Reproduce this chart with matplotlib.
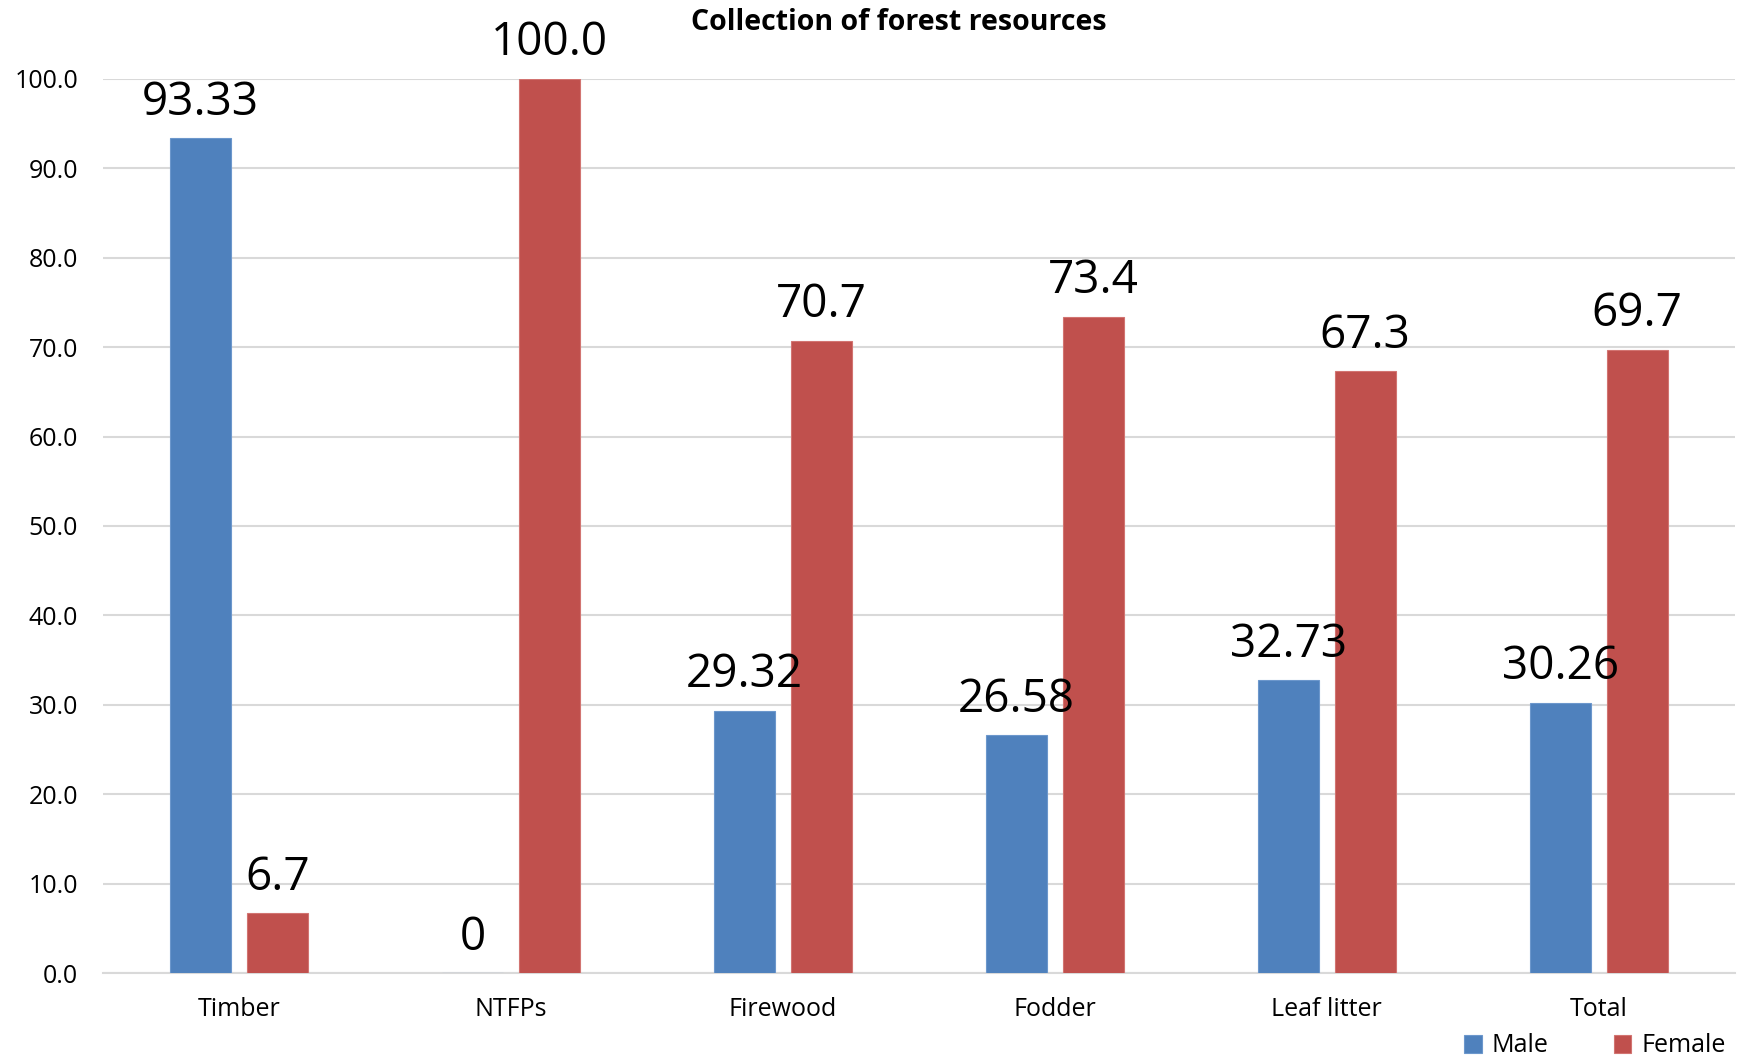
import matplotlib
matplotlib.use("Agg")
import matplotlib.pyplot as plt
import numpy as np

# Share of collection by gender (%)
categories = ["Timber", "NTFPs", "Firewood", "Fodder", "Leaf litter", "Total"]
male = [93.33, 0, 29.32, 26.58, 32.73, 30.26]
female = [6.7, 100.0, 70.7, 73.4, 67.3, 69.7]
yticks = [0, 10, 20, 30, 40, 50, 60, 70, 80, 90, 100]

BLUE = "#4F81BD"
RED = "#C0504D"
GRID = "#D9D9D9"

plt.rcParams["font.family"] = ["Open Sans", "DejaVu Sans"]

fig = plt.figure(figsize=(17.4, 10.56), dpi=100)
ax = fig.add_axes([0.0592, 0.0784, 0.9378, 0.847])

x = np.arange(len(categories))
w = 0.224
off = 0.141
bm = ax.bar(x - off, male, w, color=BLUE, edgecolor="#6C97CC", linewidth=0.8, label="Male", zorder=3)
bf = ax.bar(x + off, female, w, color=RED, edgecolor="#D27471", linewidth=0.8, label="Female", zorder=3)

for xi, v in zip(x - off, male):
    txt = "0" if v == 0 else f"{v:.2f}"
    ax.annotate(txt, (xi, v), xytext=(0, 17), textcoords="offset points",
                ha="center", va="baseline", fontsize=33, color="black", annotation_clip=False)
for xi, v in zip(x + off, female):
    ax.annotate(f"{v:.1f}", (xi, v), xytext=(0, 17), textcoords="offset points",
                ha="center", va="baseline", fontsize=33, color="black", annotation_clip=False)

ax.set_xlim(-0.5, len(categories) - 0.5)
ax.set_ylim(0, 100)
ax.set_yticks(yticks)
ax.set_yticklabels([f"{t:.1f}" for t in yticks], fontsize=18)
ax.set_xticks(x)
ax.set_xticklabels(categories, fontsize=18)
ax.tick_params(axis="both", length=0)
ax.tick_params(axis="y", pad=18)
ax.tick_params(axis="x", pad=17)
ax.yaxis.grid(True, color=GRID, linewidth=1.5, zorder=0)
ax.set_axisbelow(True)
for s in ["top", "right", "left"]:
    ax.spines[s].set_visible(False)
ax.spines["bottom"].set_color(GRID)
ax.spines["bottom"].set_linewidth(1.5)

fig.text(899 / 1740, 1 - 22 / 1056, "Collection of forest resources", ha="center", va="center",
         fontsize=20.5, fontweight="bold")

fig.legend(handles=[bm, bf], loc="center left", bbox_to_anchor=(1452 / 1740, 1 - 1046 / 1056),
           ncol=2, frameon=False, fontsize=18, handlelength=0.7, handleheight=0.7,
           handletextpad=0.4, columnspacing=2.6, borderpad=0)

fig.savefig("out.png", dpi=100)
